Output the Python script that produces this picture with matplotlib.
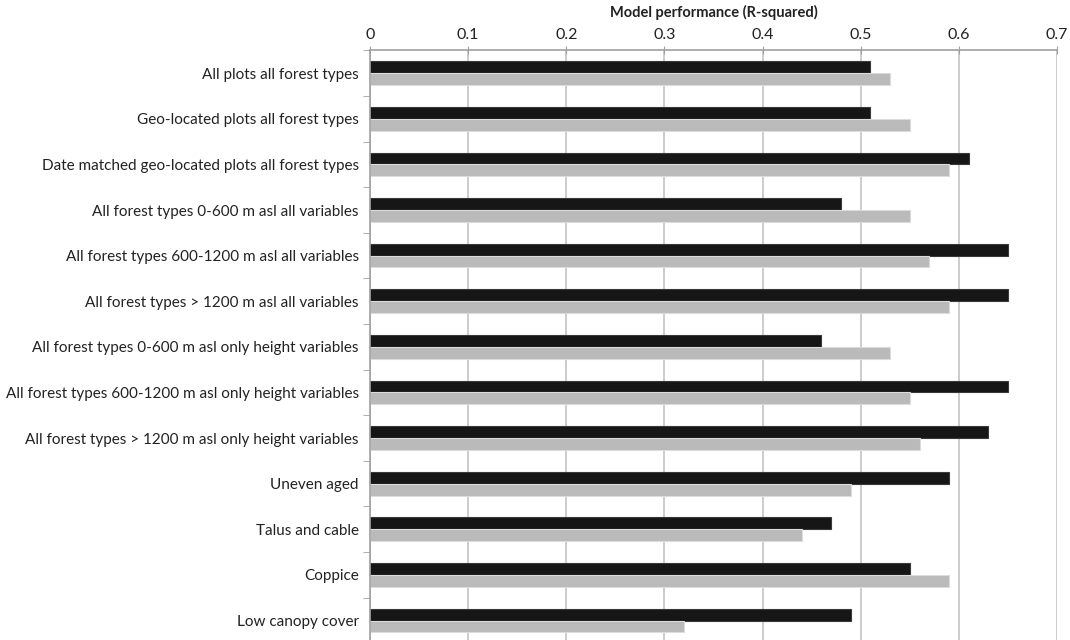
"""
Horizontal grouped bars: model performance (R-squared) per dataset subset.
"""

import numpy as np
import matplotlib.pyplot as plt
from matplotlib.ticker import FixedLocator

plt.rcParams["font.family"] = ["Lato", "DejaVu Sans"]

# ---------------------------
# data
# ---------------------------
categories = [
    "All plots all forest types",
    "Geo-located plots all forest types",
    "Date matched geo-located plots all forest types",
    "All forest types 0-600 m asl all variables",
    "All forest types 600-1200 m asl all variables",
    "All forest types > 1200 m asl all variables",
    "All forest types 0-600 m asl only height variables",
    "All forest types 600-1200 m asl only height variables",
    "All forest types > 1200 m asl only height variables",
    "Uneven aged",
    "Talus and cable",
    "Coppice",
    "Low canopy cover",
]
black_values = [0.51, 0.51, 0.61, 0.48, 0.65, 0.65, 0.46, 0.65, 0.63, 0.59, 0.47, 0.55, 0.49]
gray_values = [0.53, 0.55, 0.59, 0.55, 0.57, 0.59, 0.53, 0.55, 0.56, 0.49, 0.44, 0.59, 0.32]
x_ticks = [0, 0.1, 0.2, 0.3, 0.4, 0.5, 0.6, 0.7]
x_tick_labels = ["0", "0.1", "0.2", "0.3", "0.4", "0.5", "0.6", "0.7"]

# ---------------------------
# figure
# ---------------------------
fig = plt.figure(figsize=(10.7, 6.4), dpi=100)
ax = fig.add_axes([0.3458, -0.0052, 0.642, 0.9265])

n = len(categories)
ys = np.arange(n)
h = 0.26

ax.barh(ys - h / 2, black_values, height=h, color="#161616",
        edgecolor="#3a3a3a", linewidth=0.8, zorder=3)
ax.barh(ys + h / 2, gray_values, height=h, color="#bababa",
        edgecolor="#dcdcdc", linewidth=0.8, zorder=3)

ax.set_ylim(n - 0.5, -0.5)
ax.set_xlim(0, 0.7)

ax.xaxis.tick_top()
ax.xaxis.set_label_position("top")
ax.set_xticks(x_ticks)
ax.set_xticklabels(x_tick_labels, fontsize=11.5, color="#222222")
ax.set_xlabel("Model performance (R-squared)", fontsize=10.5,
              fontweight="bold", color="#222222", labelpad=8)
ax.tick_params(axis="x", direction="inout", length=6, color="#a0a0a0",
               pad=3)
ax.grid(axis="x", color="#c4c4c4", linewidth=1.2, zorder=0)

# category labels, ticks at the boundaries between groups
ax.set_yticks(ys)
ax.set_yticklabels(categories, fontsize=11, color="#222222")
ax.tick_params(axis="y", which="major", length=0, pad=8)
ax.yaxis.set_minor_locator(FixedLocator(np.arange(-0.5, n, 1.0)))
ax.tick_params(axis="y", which="minor", length=5, color="#a0a0a0")

for side in ["right", "bottom"]:
    ax.spines[side].set_visible(False)
for side in ["left", "top"]:
    ax.spines[side].set_color("#a0a0a0")
    ax.spines[side].set_linewidth(1.2)
    ax.spines[side].set_zorder(4)

fig.savefig("out.png", dpi=100)
